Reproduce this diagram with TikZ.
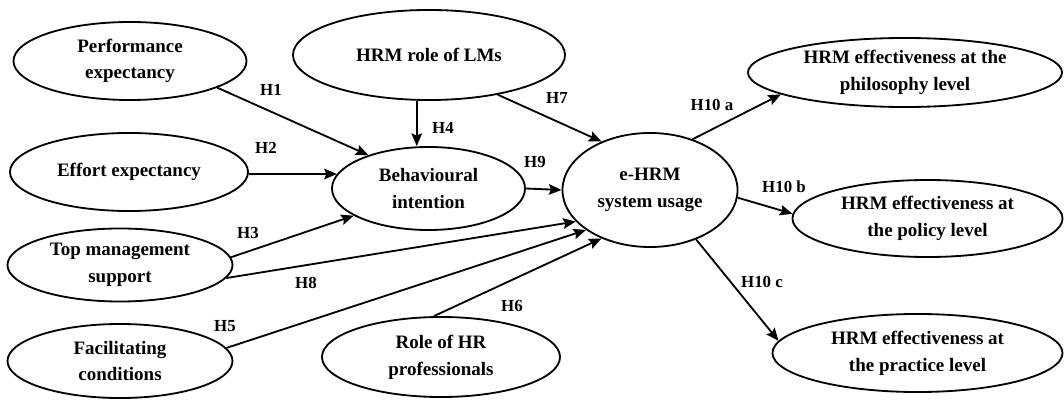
\documentclass[tikz,border=0pt]{standalone}
\usepackage{fontspec}
\setmainfont{Liberation Serif}
\usepackage{tikz}
\usetikzlibrary{shapes.geometric, arrows.meta}
\tikzstyle{construct} = [ellipse, draw, line width=1.3pt, inner sep=0pt, align=center, font=\fontsize{13.5}{19}\selectfont\bfseries]
\tikzstyle{arrow} = [line width=1.3pt, -{Stealth[length=9pt, width=7.5pt, inset=1.5pt]}]
\tikzstyle{hyp} = [inner sep=0pt, font=\fontsize{12}{14}\selectfont\bfseries]

\begin{document}
\begin{tikzpicture}[x=0.025cm, y=-0.025cm]
\useasboundingbox (0,0) rectangle (1064,400);

% constructs
\node (perf) [construct, minimum width=5.825cm, minimum height=1.95cm] at (130,61) {Performance\\expectancy};
\node (effort) [construct, minimum width=5.95cm, minimum height=1.95cm] at (129,172) {Effort expectancy};
\node (topmgmt) [construct, minimum width=5.625cm, minimum height=1.825cm] at (120,265) {Top management\\support};
\node (facil) [construct, minimum width=5.625cm, minimum height=1.85cm] at (120,361) {Facilitating\\conditions};
\node (lms) [construct, minimum width=6.8cm, minimum height=2.25cm] at (429,55) {HRM role of LMs};
\node (behav) [construct, minimum width=4.825cm, minimum height=2.075cm] at (428.5,188.5) {Behavioural\\intention};
\node (hrprof) [construct, minimum width=5.95cm, minimum height=2.0cm] at (441,357) {Role of HR\\professionals};
\node (ehrm) [construct, minimum width=4.375cm, minimum height=2.85cm] at (650,190) {e-HRM\\system usage};
\node (philo) [construct, minimum width=7.85cm, minimum height=1.725cm] at (905,72.5) {HRM effectiveness at the\\philosophy level};
\node (policy) [construct, minimum width=6.75cm, minimum height=1.925cm] at (927.5,218.5) {HRM effectiveness at\\the policy level};
\node (practice) [construct, minimum width=7.25cm, minimum height=1.95cm] at (917.5,353) {HRM effectiveness at\\the practice level};

% paths
\draw[arrow] (perf.343) -- (behav.151);
\draw[arrow] (effort.359) -- (behav.171);
\draw[arrow] (topmgmt.4) -- (behav.200);
\draw[arrow] (lms.255) -- (lms.255 |- behav.north);
\draw[arrow] (behav.east) -- (ehrm.west);
\draw[arrow] (lms.330) -- (ehrm.135);
\draw[arrow] (topmgmt.353) -- (ehrm.203);
\draw[arrow] (facil.7) -- (ehrm.212);
\draw[arrow] (hrprof.100) -- (ehrm.225);
\draw[arrow] (ehrm.50) -- (philo.190);
\draw[arrow] (ehrm.355) -- (policy.178);
\draw[arrow] (ehrm.313) -- (practice.175);

% hypotheses
\node (h1) [hyp] at (271,90) {H1};
\node (h2) [hyp] at (266,148) {H2};
\node (h3) [hyp] at (248,233) {H3};
\node (h4) [hyp] at (443,128) {H4};
\node (h5) [hyp] at (225,326) {H5};
\node (h6) [hyp] at (512,306) {H6};
\node (h7) [hyp] at (557,98) {H7};
\node (h8) [hyp] at (306,283) {H8};
\node (h9) [hyp] at (535,162) {H9};
\node (h10a) [hyp] at (712,105) {H10 a};
\node (h10b) [hyp] at (784,187) {H10 b};
\node (h10c) [hyp] at (762,282) {H10 c};

\end{tikzpicture}
\end{document}
